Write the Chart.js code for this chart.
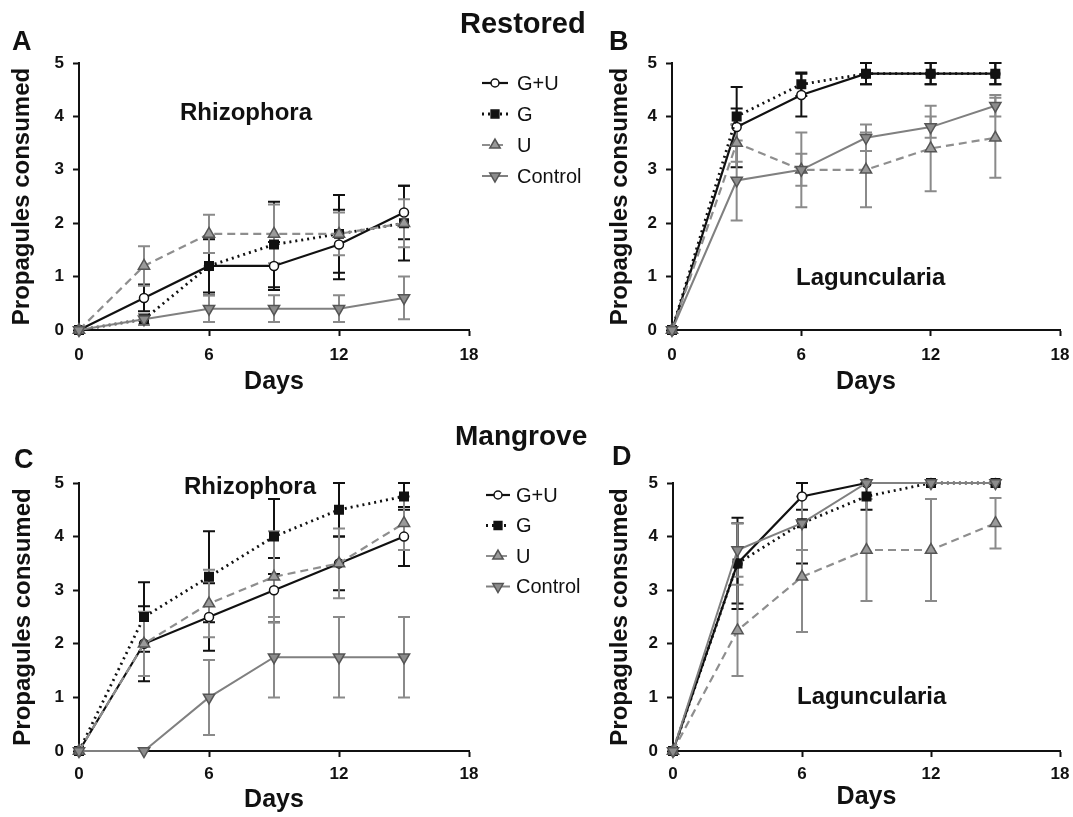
<!DOCTYPE html>
<html>
<head>
<meta charset="utf-8">
<script src="https://cdn.jsdelivr.net/npm/chart.js@4.4.1/dist/chart.umd.min.js"></script>
<style>
body { margin: 0; background: #fff; }
#wrap { position: relative; width: 1073px; height: 817px; overflow: hidden; font-family: 'Liberation Sans', Arial, sans-serif; }
canvas { position: absolute; }
.lbl { position: absolute; font-weight: bold; line-height: 1; color: #111; white-space: nowrap; }
</style>
</head>
<body>
<div id="wrap">
  <canvas id="chartA" width="590" height="400" style="left:0;top:0"></canvas>
  <canvas id="chartB" width="483" height="400" style="left:590px;top:0"></canvas>
  <canvas id="chartC" width="590" height="417" style="left:0;top:400px"></canvas>
  <canvas id="chartD" width="483" height="417" style="left:590px;top:400px"></canvas>

  <div class="lbl" style="left:460px;top:9px;font-size:29px">Restored</div>
  <div class="lbl" style="left:455px;top:422px;font-size:28px">Mangrove</div>
  <div class="lbl" style="left:12px;top:28px;font-size:27px">A</div>
  <div class="lbl" style="left:609px;top:28px;font-size:27px">B</div>
  <div class="lbl" style="left:14px;top:446px;font-size:27px">C</div>
  <div class="lbl" style="left:612px;top:443px;font-size:27px">D</div>
  <div class="lbl" style="left:180px;top:100px;font-size:24px">Rhizophora</div>
  <div class="lbl" style="left:184px;top:474px;font-size:24px">Rhizophora</div>
  <div class="lbl" style="left:796px;top:265px;font-size:24px">Laguncularia</div>
  <div class="lbl" style="left:797px;top:684px;font-size:24px">Laguncularia</div>
</div>
<script>
var days = [0, 3, 6, 9, 12, 15];
var xTicks = [0, 6, 12, 18];
var yTicks = [0, 1, 2, 3, 4, 5];
var seriesNames = ['G+U', 'G', 'U', 'Control'];

// A: Restored - Rhizophora
var restRhiGU = [0, 0.6, 1.2, 1.2, 1.6, 2.2];
var restRhiG = [0, 0.2, 1.2, 1.6, 1.8, 2.0];
var restRhiU = [0, 1.2, 1.8, 1.8, 1.8, 2.0];
var restRhiCtrl = [0, 0.2, 0.4, 0.4, 0.4, 0.6];
var restRhiGUErr = [0, 0.25, 0.55, 0.45, 0.65, 0.5];
var restRhiGErr = [0, 0.1, 0.5, 0.8, 0.73, 0.7];
var restRhiUErr = [0, 0.37, 0.36, 0.55, 0.4, 0.45];
var restRhiCtrlErr = [0, 0.1, 0.25, 0.25, 0.25, 0.4];

// B: Restored - Laguncularia
var restLagGU = [0, 3.8, 4.4, 4.8, 4.8, 4.8];
var restLagG = [0, 4.0, 4.6, 4.8, 4.8, 4.8];
var restLagU = [0, 3.5, 3.0, 3.0, 3.4, 3.6];
var restLagCtrl = [0, 2.8, 3.0, 3.6, 3.8, 4.2];
var restLagGUErr = [0, 0.75, 0.4, 0.2, 0.2, 0.2];
var restLagGErr = [0, 0.15, 0.22, 0.2, 0.2, 0.2];
var restLagUErr = [0, 0.35, 0.3, 0.7, 0.8, 0.75];
var restLagCtrlErr = [0, 0.75, 0.7, 0.25, 0.2, 0.2];

// C: Mangrove - Rhizophora
var manRhiGU = [0, 2.0, 2.5, 3.0, 3.5, 4.0];
var manRhiG = [0, 2.5, 3.25, 4.0, 4.5, 4.75];
var manRhiU = [0, 2.0, 2.75, 3.25, 3.5, 4.25];
var manRhiCtrl = [0, 0, 1.0, 1.75, 1.75, 1.75];
var manRhiGUErr = [0, 0.7, 0.63, 0.6, 0.5, 0.55];
var manRhiGErr = [0, 0.65, 0.85, 0.7, 0.5, 0.25];
var manRhiUErr = [0, 0.6, 0.63, 0.85, 0.65, 0.5];
var manRhiCtrlErr = [0, 0, 0.7, 0.75, 0.75, 0.75];

// D: Mangrove - Laguncularia
var manLagGU = [0, 3.5, 4.75, 5.0, 5.0, 5.0];
var manLagG = [0, 3.5, 4.25, 4.75, 5.0, 5.0];
var manLagU = [0, 2.25, 3.25, 3.75, 3.75, 4.25];
var manLagCtrl = [0, 3.75, 4.25, 5.0, 5.0, 5.0];
var manLagGUErr = [0, 0.85, 0.25, 0, 0, 0];
var manLagGErr = [0, 0.75, 0.75, 0.25, 0, 0];
var manLagUErr = [0, 0.85, 1.03, 0.95, 0.95, 0.47];
var manLagCtrlErr = [0, 0.5, 0.5, 0, 0, 0];

var FONT = "'Liberation Sans', Arial, sans-serif";

// look of each series: G+U, G, U, Control
var looks = [
  { color: '#111', dash: [], width: 2.2, pointStyle: 'circle', fill: '#fff', stroke: '#111', radius: 4.5, rotation: 0, err: '#111' },
  { color: '#111', dash: [2, 4], width: 2.8, pointStyle: 'rect', fill: '#111', stroke: '#111', radius: 6, rotation: 0, err: '#111' },
  { color: '#8e8e8e', dash: [8, 5], width: 2.2, pointStyle: 'triangle', fill: '#9a9a9a', stroke: '#555', radius: 6.5, rotation: 0, err: '#8a8a8a' },
  { color: '#808080', dash: [], width: 2, pointStyle: 'triangle', fill: '#8c8c8c', stroke: '#555', radius: 6.5, rotation: 180, err: '#8a8a8a' }
];

function pts(vals) {
  return vals.map(function (v, i) { return { x: days[i], y: v }; });
}

function makeSet(k, vals, errs) {
  var s = looks[k];
  return {
    label: seriesNames[k],
    data: pts(vals),
    errors: errs,
    errColor: s.err,
    borderColor: s.color,
    borderWidth: s.width,
    borderDash: s.dash,
    pointStyle: s.pointStyle,
    pointRotation: s.rotation,
    pointRadius: s.radius,
    pointBackgroundColor: s.fill,
    pointBorderColor: s.stroke,
    pointBorderWidth: 1.5,
    tension: 0,
    clip: false,
    order: 3 - k
  };
}

var errorBars = {
  id: 'errorBars',
  beforeDatasetsDraw: function (chart) {
    var ctx = chart.ctx;
    var xs = chart.scales.x, ys = chart.scales.y;
    ctx.save();
    chart.data.datasets.forEach(function (ds) {
      ctx.strokeStyle = ds.errColor;
      ctx.lineWidth = 2;
      ctx.setLineDash([]);
      ds.data.forEach(function (p, i) {
        var e = ds.errors[i];
        if (!e) return;
        var px = xs.getPixelForValue(p.x);
        var top = ys.getPixelForValue(p.y + e);
        var bot = ys.getPixelForValue(p.y - e);
        ctx.beginPath();
        ctx.moveTo(px, top); ctx.lineTo(px, bot);
        ctx.moveTo(px - 6, top); ctx.lineTo(px + 6, top);
        ctx.moveTo(px - 6, bot); ctx.lineTo(px + 6, bot);
        ctx.stroke();
      });
    });
    ctx.restore();
  }
};

var seriesLegend = {
  id: 'seriesLegend',
  afterDraw: function (chart, args, opts) {
    if (!opts.show) return;
    var ctx = chart.ctx;
    ctx.save();
    ctx.font = '20px ' + FONT;
    ctx.textBaseline = 'middle';
    seriesNames.forEach(function (name, k) {
      var s = looks[k];
      var y = opts.y0 + k * opts.gap;
      ctx.strokeStyle = s.color;
      ctx.lineWidth = s.width;
      ctx.setLineDash(s.dash);
      ctx.beginPath();
      ctx.moveTo(opts.x0, y); ctx.lineTo(opts.x1, y);
      ctx.stroke();
      ctx.setLineDash([]);
      ctx.fillStyle = s.fill;
      ctx.strokeStyle = s.stroke;
      ctx.lineWidth = 1.5;
      Chart.helpers.drawPoint(ctx, { pointStyle: s.pointStyle, radius: s.radius - 0.5, rotation: s.rotation, borderWidth: 1.5 }, (opts.x0 + opts.x1) / 2, y);
      ctx.fillStyle = '#111';
      ctx.fillText(name, opts.xt, y + 1);
    });
    ctx.restore();
  }
};

function makeChart(id, sets, box) {
  return new Chart(document.getElementById(id), {
    type: 'line',
    data: { datasets: sets },
    plugins: [errorBars, seriesLegend],
    options: {
      responsive: false,
      animation: false,
      layout: { padding: { left: 0, top: box.top, right: box.right, bottom: 0 } },
      plugins: {
        legend: { display: false },
        tooltip: { enabled: false },
        seriesLegend: box.legend || { show: false }
      },
      scales: {
        x: {
          type: 'linear', min: 0, max: 18,
          afterBuildTicks: function (s) { s.ticks = xTicks.map(function (v) { return { value: v }; }); },
          afterFit: function (s) { s.height = box.xh; s.paddingLeft = 0; s.paddingRight = 0; },
          grid: { drawOnChartArea: false, drawTicks: true, tickLength: 6, tickWidth: 2, tickColor: '#111' },
          border: { display: true, color: '#111', width: 2 },
          ticks: { color: '#111', padding: box.xpad, maxRotation: 0, font: { family: FONT, size: 17, weight: 'bold' } },
          title: { display: true, text: 'Days', color: '#111', padding: { top: 0, bottom: box.dpad }, font: { family: FONT, size: 25, weight: 'bold' } }
        },
        y: {
          type: 'linear', min: 0, max: 5,
          afterBuildTicks: function (s) { s.ticks = yTicks.map(function (v) { return { value: v }; }); },
          afterFit: function (s) { s.width = box.yw; s.paddingTop = 0; s.paddingBottom = 0; },
          grid: { drawOnChartArea: false, drawTicks: true, tickLength: 6, tickWidth: 2, tickColor: '#111' },
          border: { display: true, color: '#111', width: 2 },
          ticks: { color: '#111', padding: 9, font: { family: FONT, size: 17, weight: 'bold' } },
          title: { display: true, text: 'Propagules consumed', color: '#111', padding: { top: box.tpad, bottom: 0 }, font: { family: FONT, size: 24, weight: 'bold' } }
        }
      }
    }
  });
}

makeChart('chartA', [
  makeSet(0, restRhiGU, restRhiGUErr),
  makeSet(1, restRhiG, restRhiGErr),
  makeSet(2, restRhiU, restRhiUErr),
  makeSet(3, restRhiCtrl, restRhiCtrlErr)
], { top: 63, right: 121, yw: 79, xh: 70, xpad: 9, dpad: 3, tpad: 8,
     legend: { show: true, x0: 482, x1: 508, xt: 517, y0: 83, gap: 31 } });

makeChart('chartB', [
  makeSet(0, restLagGU, restLagGUErr),
  makeSet(1, restLagG, restLagGErr),
  makeSet(2, restLagU, restLagUErr),
  makeSet(3, restLagCtrl, restLagCtrlErr)
], { top: 63, right: 13, yw: 82, xh: 70, xpad: 9, dpad: 3, tpad: 16 });

makeChart('chartC', [
  makeSet(0, manRhiGU, manRhiGUErr),
  makeSet(1, manRhiG, manRhiGErr),
  makeSet(2, manRhiU, manRhiUErr),
  makeSet(3, manRhiCtrl, manRhiCtrlErr)
], { top: 83, right: 121, yw: 79, xh: 66, xpad: 7, dpad: 2, tpad: 9,
     legend: { show: true, x0: 486, x1: 510, xt: 516, y0: 95, gap: 30.5 } });

makeChart('chartD', [
  makeSet(0, manLagGU, manLagGUErr),
  makeSet(1, manLagG, manLagGErr),
  makeSet(2, manLagU, manLagUErr),
  makeSet(3, manLagCtrl, manLagCtrlErr)
], { top: 83, right: 13, yw: 83, xh: 66, xpad: 7, dpad: 5, tpad: 16 });
</script>
</body>
</html>
